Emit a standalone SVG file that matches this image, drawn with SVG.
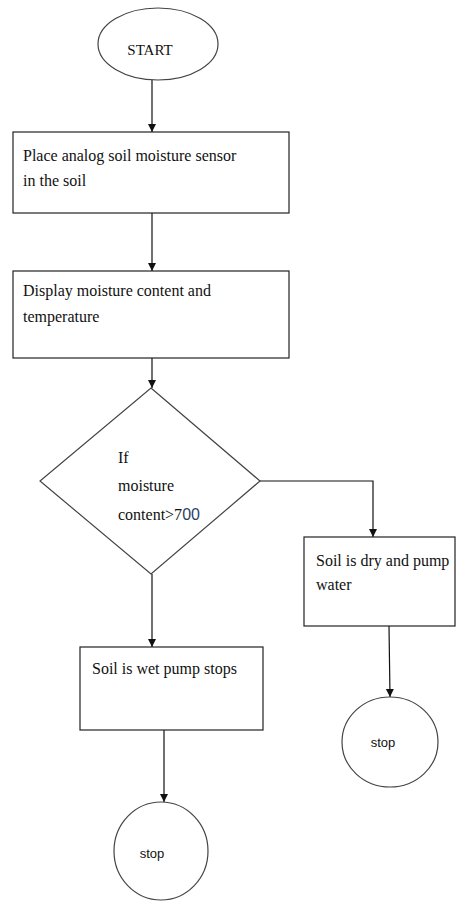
<svg xmlns="http://www.w3.org/2000/svg" width="459" height="902" viewBox="0 0 459 902">
<style>
.box{fill:#fff;stroke:#222;stroke-width:1.2}
.shape{fill:#fff;stroke:#444;stroke-width:1.2}
.edge{fill:none;stroke:#111;stroke-width:1.2}
.t{font-family:"Liberation Serif","Times New Roman",serif;font-size:16px;fill:#111}
.s{font-family:"Liberation Sans",Arial,sans-serif;font-size:13px;fill:#111}
</style>
<defs>
<marker id="ah" viewBox="0 0 10 10" refX="10" refY="5" markerWidth="8" markerHeight="10" markerUnits="userSpaceOnUse" orient="auto">
<path d="M0,0 L10,5 L0,10 z" fill="#111"/>
</marker>
</defs>
<rect width="459" height="902" fill="#fff"/>
<g id="connectors">
<line class="edge" x1="152" y1="80" x2="152" y2="132" marker-end="url(#ah)"/>
<line class="edge" x1="152" y1="213" x2="152" y2="271" marker-end="url(#ah)"/>
<line class="edge" x1="152" y1="358" x2="152" y2="388" marker-end="url(#ah)"/>
<polyline class="edge" points="260,481 373,481 373,537" marker-end="url(#ah)"/>
<line class="edge" x1="152" y1="574" x2="152" y2="647" marker-end="url(#ah)"/>
<line class="edge" x1="389" y1="626" x2="390" y2="697" marker-end="url(#ah)"/>
<line class="edge" x1="164" y1="730" x2="164" y2="802" marker-end="url(#ah)"/>
</g>
<g id="start">
<ellipse class="shape" cx="158" cy="44" rx="60" ry="36"/>
<text class="t" x="150" y="55" text-anchor="middle" style="font-size:15px">START</text>
</g>
<g id="place">
<rect class="box" x="13" y="132" width="276" height="81"/>
<text class="t" x="23" y="161">Place analog soil moisture sensor</text>
<text class="t" x="23" y="186">in the soil</text>
</g>
<g id="display">
<rect class="box" x="13" y="271" width="276" height="87"/>
<text class="t" x="23" y="296">Display moisture content and</text>
<text class="t" x="23" y="322">temperature</text>
</g>
<g id="decision">
<polygon class="shape" points="151,388 260,481 151,574 40,481"/>
<text class="t" x="118" y="463">If</text>
<text class="t" x="118" y="491">moisture</text>
<text class="t" x="118" y="520">content&gt;7<tspan style="font-family:'Liberation Sans',Arial,sans-serif;fill:#2a3f66">00</tspan></text>
</g>
<g id="dry">
<rect class="box" x="304" y="537" width="151" height="89"/>
<text class="t" x="316" y="566">Soil is dry and pump</text>
<text class="t" x="316" y="590">water</text>
</g>
<g id="wet">
<rect class="box" x="80" y="647" width="183" height="83"/>
<text class="t" x="92" y="674">Soil is wet pump stops</text>
</g>
<g id="stop-right">
<ellipse class="shape" cx="390" cy="742" rx="48" ry="45"/>
<text class="s" x="383" y="747" text-anchor="middle">stop</text>
</g>
<g id="stop-left">
<ellipse class="shape" cx="161" cy="851" rx="47" ry="49"/>
<text class="s" x="152" y="858" text-anchor="middle">stop</text>
</g>
</svg>
